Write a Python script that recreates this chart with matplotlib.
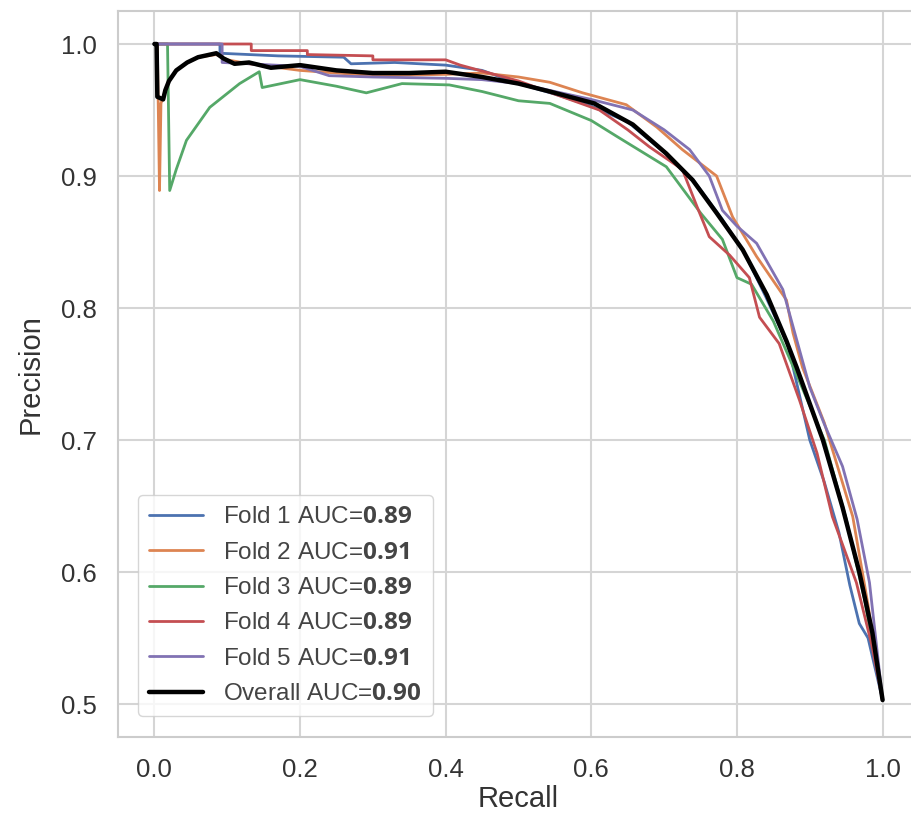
import numpy as np
import matplotlib.pyplot as plt
import seaborn as sns

sns.set_theme(style="whitegrid")
plt.rcParams['font.family'] = ['Liberation Sans', 'DejaVu Sans']
plt.rcParams['mathtext.fontset'] = 'custom'
plt.rcParams['mathtext.bf'] = 'Open Sans:bold'

# recall / precision points
fold1_r = [0.0, 0.09, 0.09, 0.17, 0.26, 0.27, 0.33, 0.40, 0.45, 0.50, 0.55, 0.60, 0.65,
           0.70, 0.74, 0.78, 0.81, 0.84, 0.87, 0.90, 0.92, 0.94, 0.955, 0.968, 0.98, 1.0]
fold1_p = [1.0, 1.0, 0.993, 0.991, 0.990, 0.985, 0.986, 0.984, 0.980, 0.970, 0.962, 0.953, 0.941,
           0.918, 0.897, 0.867, 0.842, 0.808, 0.772, 0.700, 0.668, 0.630, 0.590, 0.561, 0.550, 0.503]

fold2_r = [0.0, 0.004, 0.007, 0.009, 0.012, 0.02, 0.03, 0.045, 0.06, 0.085, 0.10, 0.13, 0.2,
           0.3, 0.4, 0.45, 0.50, 0.543, 0.588, 0.648, 0.69, 0.725, 0.772, 0.794, 0.827,
           0.868, 0.877, 0.89, 0.92, 0.959, 0.98, 1.0]
fold2_p = [1.0, 1.0, 0.889, 0.955, 0.96, 0.972, 0.980, 0.986, 0.990, 0.992, 0.988, 0.985, 0.980,
           0.976, 0.977, 0.978, 0.975, 0.971, 0.963, 0.954, 0.937, 0.920, 0.900, 0.869, 0.839,
           0.806, 0.781, 0.755, 0.713, 0.642, 0.575, 0.503]

fold3_r = [0.0, 0.018, 0.021, 0.03, 0.044, 0.076, 0.117, 0.144, 0.148, 0.2, 0.25, 0.291,
           0.34, 0.405, 0.45, 0.5, 0.543, 0.60, 0.635, 0.703, 0.75, 0.78, 0.80, 0.82,
           0.85, 0.88, 0.92, 0.95, 0.975, 1.0]
fold3_p = [1.0, 1.0, 0.889, 0.905, 0.927, 0.952, 0.970, 0.979, 0.967, 0.973, 0.968, 0.963,
           0.970, 0.969, 0.964, 0.957, 0.955, 0.942, 0.930, 0.907, 0.872, 0.852, 0.823, 0.818,
           0.790, 0.752, 0.700, 0.640, 0.580, 0.503]

fold4_r = [0.0, 0.133, 0.133, 0.21, 0.21, 0.30, 0.30, 0.40, 0.42, 0.46, 0.50, 0.55, 0.611,
           0.65, 0.68, 0.725, 0.745, 0.762, 0.79, 0.817, 0.831, 0.858, 0.886, 0.91, 0.931,
           0.964, 0.985, 1.0]
fold4_p = [1.0, 1.0, 0.995, 0.995, 0.992, 0.991, 0.988, 0.988, 0.984, 0.978, 0.972, 0.962, 0.950,
           0.935, 0.922, 0.905, 0.877, 0.854, 0.840, 0.823, 0.793, 0.773, 0.730, 0.690, 0.642,
           0.592, 0.545, 0.503]

fold5_r = [0.0, 0.093, 0.093, 0.13, 0.2, 0.24, 0.30, 0.40, 0.45, 0.50, 0.55, 0.60, 0.657,
           0.70, 0.735, 0.762, 0.78, 0.80, 0.827, 0.863, 0.9, 0.92, 0.945, 0.965, 0.982, 1.0]
fold5_p = [1.0, 1.0, 0.986, 0.985, 0.983, 0.976, 0.975, 0.974, 0.973, 0.970, 0.964, 0.958, 0.950,
           0.935, 0.920, 0.900, 0.874, 0.862, 0.849, 0.814, 0.740, 0.712, 0.680, 0.640, 0.592, 0.503]

overall_r = [0.0, 0.003, 0.004, 0.012, 0.015, 0.02, 0.03, 0.045, 0.06, 0.085, 0.095, 0.11,
             0.13, 0.16, 0.2, 0.25, 0.3, 0.35, 0.4, 0.45, 0.5, 0.543, 0.604, 0.657, 0.703,
             0.739, 0.772, 0.808, 0.841, 0.868, 0.882, 0.918, 0.945, 0.968, 0.986, 1.0]
overall_p = [1.0, 1.0, 0.960, 0.958, 0.965, 0.972, 0.980, 0.986, 0.990, 0.993, 0.989, 0.985,
             0.986, 0.982, 0.984, 0.980, 0.978, 0.978, 0.979, 0.975, 0.970, 0.964, 0.955, 0.939,
             0.917, 0.897, 0.872, 0.844, 0.810, 0.775, 0.755, 0.700, 0.649, 0.600, 0.554, 0.503]

aucs = ["0.89", "0.91", "0.89", "0.89", "0.91"]
overall_auc = "0.90"

folds = [(fold1_r, fold1_p), (fold2_r, fold2_p), (fold3_r, fold3_p),
         (fold4_r, fold4_p), (fold5_r, fold5_p)]
colors = ['#4c72b0', '#dd8452', '#55a868', '#c44e52', '#8172b3']

fig = plt.figure(figsize=(9.12, 8.13), dpi=100)
ax = fig.add_axes([118 / 912, 76 / 813, 801 / 912, 726 / 813])

for i, (r, p) in enumerate(folds):
    ax.plot(r, p, color=colors[i], lw=2,
            label="Fold %d AUC=$\\mathbf{%s}$" % (i + 1, aucs[i]))
ax.plot(overall_r, overall_p, color='black', lw=3.2,
        label="Overall AUC=$\\mathbf{%s}$" % overall_auc)

ax.set_xlim(-0.05, 1.05)
ax.set_ylim(0.475, 1.025)
ax.set_xticks([0.0, 0.2, 0.4, 0.6, 0.8, 1.0])
ax.set_yticks([0.5, 0.6, 0.7, 0.8, 0.9, 1.0])
ax.tick_params(labelsize=18.5, colors='#333333', pad=9)
ax.set_xlabel("Recall", fontsize=21, color='#333333', labelpad=2)
ax.set_ylabel("Precision", fontsize=21, color='#333333', labelpad=12)
for s in ax.spines.values():
    s.set_color('#cccccc')
    s.set_linewidth(1.5)
ax.grid(color='#d5d5d5', lw=1.5)

leg = ax.legend(loc='lower left', fontsize=17.5, frameon=True, handlelength=2.2,
                borderpad=0.45, labelspacing=0.55, handletextpad=0.85,
                bbox_to_anchor=(0.01, 0.012))
for t in leg.get_texts():
    t.set_color('#444444')

fig.savefig("out.png", dpi=100)
